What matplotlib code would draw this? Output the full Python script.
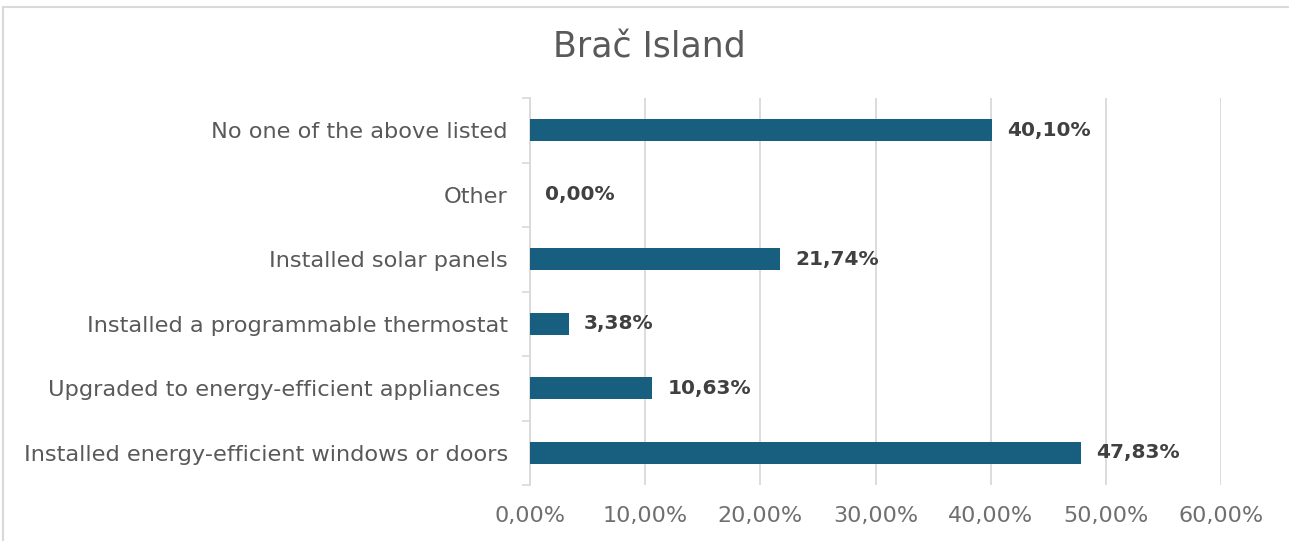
import matplotlib
matplotlib.use("Agg")
import matplotlib.pyplot as plt
from matplotlib.patches import Rectangle
import numpy as np

categories = [
    "Installed energy-efficient windows or doors",
    "Upgraded to energy-efficient appliances ",
    "Installed a programmable thermostat",
    "Installed solar panels",
    "Other",
    "No one of the above listed",
]
values = [47.83, 10.63, 3.38, 21.74, 0.00, 40.10]
xticks = [0, 10, 20, 30, 40, 50, 60]
title = "Brač Island"

plt.rcParams['font.family'] = ['DejaVu Sans']

fig = plt.figure(figsize=(12.89, 5.41), dpi=100)
ax = fig.add_axes([530/1289, 1-485/541, (1221-530)/1289, (485-98)/541])

y = np.arange(len(categories))
ax.barh(y, values, height=0.34, color="#175e7f", zorder=3)
for yi, v in zip(y, values):
    ax.text(v + 1.3, yi, f"{v:.2f}%".replace(".", ","), va="center", ha="left",
            fontsize=14.5, fontweight="bold", color="#404040", zorder=4)

ax.set_xlim(0, 60)
ax.set_ylim(-0.5, len(categories) - 0.5)
ax.set_xticks(xticks)
ax.set_xticklabels([f"{t:.2f}%".replace(".", ",") for t in xticks], fontsize=16, color="#6f6f6f")
ax.set_yticks(y)
ax.set_yticklabels(categories, fontsize=16.2, color="#595959")
ax.tick_params(axis="y", which="major", length=0, pad=16)
ax.set_yticks(np.arange(-0.5, len(categories)), minor=True)
ax.tick_params(axis="y", which="minor", length=6, color="#d9d9d9", width=1.2)
ax.tick_params(axis="x", length=0, pad=15)
ax.grid(axis="x", color="#d9d9d9", linewidth=1.3, zorder=0)
for s in ["top", "right", "bottom"]:
    ax.spines[s].set_visible(False)
ax.spines["left"].set_color("#d9d9d9")
ax.spines["left"].set_linewidth(1.3)

fig.text(649/1289, 1-47/541, title, ha="center", va="center", fontsize=25, color="#595959")

fig.patches.append(Rectangle((3/1289, -0.1), 1.2, 1-7/541 + 0.1, transform=fig.transFigure,
                             fill=False, edgecolor="#d9d9d9", linewidth=1.5))

fig.savefig("out.png", dpi=100)
